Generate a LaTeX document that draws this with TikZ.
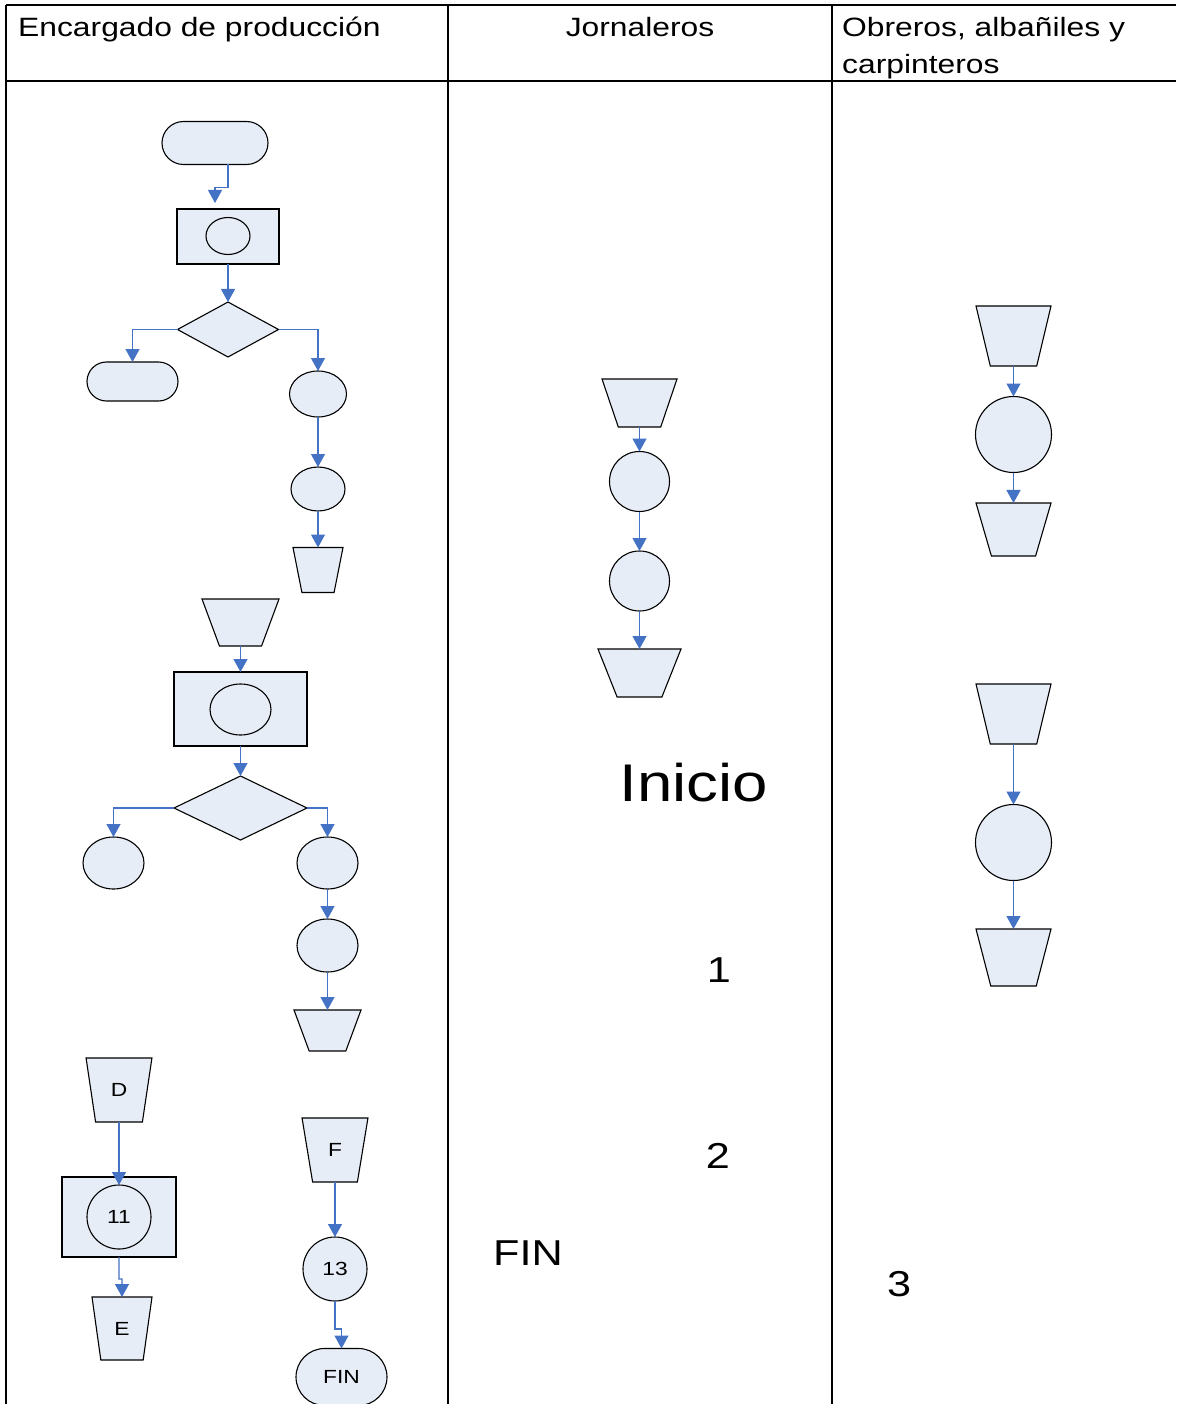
\documentclass[tikz,border=0pt]{standalone}
\usepackage{fontspec}
\setmainfont[FakeStretch=1.2]{Liberation Sans}
\usetikzlibrary{shapes, arrows.meta, calc}
\definecolor{boxfill}{RGB}{230,237,247}
\definecolor{flowblue}{RGB}{68,114,196}
\tikzset{
	shp/.style={draw=black, line width=1.1pt, fill=boxfill, inner sep=0pt, outer sep=0pt, font=\fontsize{19}{22}\selectfont},
	term/.style 2 args={shp, rounded rectangle, minimum width=#1, minimum height=#2},
	oval/.style 2 args={shp, ellipse, minimum width=#1, minimum height=#2},
	circ/.style={shp, circle, minimum size=#1},
	procbox/.style 2 args={shp, rectangle, minimum width=#1, minimum height=#2},
	dec/.style 2 args={shp, diamond, minimum width=#1, minimum height=#2},
	store/.style n args={3}{shp, inner sep=1pt, trapezium, shape border rotate=180, trapezium stretches=true, trapezium angle=#3, minimum width=#1, minimum height=#2},
	flow/.style={draw=flowblue, line width=1.3pt, -{Triangle[width=14pt,length=13pt]}},
	lanerule/.style={line width=2pt},
	hdr/.style={inner sep=0pt, font=\fontsize{26.5}{37}\selectfont},
	big/.style={inner sep=0pt, font=\fontsize{#1}{#1}\selectfont},
}

\begin{document}
\begin{tikzpicture}[x=1pt, y=-1pt]
	\useasboundingbox (0,0) rectangle (1176,1404);
		% lanes
		\draw[lanerule] (6,5) -- (1176,5);
		\draw[lanerule] (6,81) -- (1176,81);
		\foreach \x in {6,448,832} {
			\draw[lanerule] (\x,5) -- (\x,1404); % lane borders
		};
		\node[hdr, anchor=base west] (h1) at (18,37) {Encargado de producción};
		\node[hdr, anchor=base] (h2) at (640,37) {Jornaleros};
		\node[hdr, anchor=base west, align=left] (h3) at (842,74) {Obreros, albañiles y\\carpinteros}; % base = last line

		% encargado, first part
		\node[term={106}{43}] (start) at (215,143) {};
		\node[procbox={102}{55}] (box1) at (228,236.5) {};
		\node[oval={44}{37}] (in1) at (228,236) {};
		\node[dec={101}{55}] (dec1) at (228,329.5) {};
		\node[term={91}{39}] (end1) at (132.5,381.5) {};
		\node[oval={57}{46}] (o1) at (318,394) {};
		\node[oval={54}{44}] (o2) at (318,489) {};
		\node[store={50}{45}{74.5}] (s1) at (318,570) {};
		% encargado, second part
		\node[store={77}{47}{67.5}] (s2) at (240.5,622.5) {};
		\node[procbox={133}{74}] (box2) at (240.5,709) {};
		\node[oval={61}{51}] (in2) at (240.5,709.5) {};
		\node[dec={133}{64}] (dec2) at (240.5,808) {};
		\node[oval={61}{52}] (o3) at (113.5,863) {};
		\node[oval={61}{52}] (o4) at (327.5,863) {};
		\node[oval={61}{53}] (o5) at (327.5,945.5) {};
		\node[store={67}{41}{67.5}] (s3) at (327.5,1030.5) {};
		% encargado, third part
		\node[store={66}{64}{76}] (sD) at (119,1090) {D};
		\node[procbox={114}{80}] (box3) at (119,1217) {};
		\node[circ=64] (c11) at (119,1217) {11};
		\node[store={60}{63}{76.6}] (sE) at (122,1328.5) {E};
		\node[store={66}{64}{76}] (sF) at (335,1150) {F};
		\node[circ=64] (c13) at (335,1269) {13};
		\node[term={91}{57}] (fin) at (341.5,1377) {FIN};

		% jornaleros
		\node[store={75}{48}{69}] (j1) at (639.5,403) {};
		\node[circ=60] (j2) at (639.5,481.5) {};
		\node[circ=60] (j3) at (639.5,581) {};
		\node[store={83}{48}{66.9}] (j4) at (639.5,673) {};

		% obreros
		\node[store={75}{60}{72.9}] (w1) at (1013.5,336) {};
		\node[circ=76] (w2) at (1013.5,434.5) {};
		\node[store={75}{53}{70.8}] (w3) at (1013.5,529.5) {};
		\node[store={75}{60}{72.9}] (w4) at (1013.5,714) {};
		\node[circ=76] (w5) at (1013.5,842.5) {};
		\node[store={75}{57}{72}] (w6) at (1013.5,957.5) {};

		% loose texts
		\node[big=53] (inicio) at (694,783) {Inicio};
		\node[big=36] (n1) at (719,970) {1};
		\node[big=36] (n2) at (718,1156) {2};
		\node[big=36] (finb) at (528,1253) {FIN};
		\node[big=36] (n3) at (899,1284) {3};

		% connectors
		\draw[flow] (box1.north |- start.south) |- ++(-13,23) -- ($(start.south |- box1.north)+(0,-6)$);
		\draw[flow] (box1) -- (dec1);
		\draw[flow] (dec1.west) -| (end1);
		\draw[flow] (dec1.east) -| (o1);
		\draw[flow] (o1) -- (o2);
		\draw[flow] (o2) -- (s1);
		\draw[flow] (s2) -- (box2);
		\draw[flow] (box2) -- (dec2);
		\draw[flow] (dec2.west) -| (o3);
		\draw[flow] (dec2.east) -| (o4);
		\draw[flow] (o4) -- (o5);
		\draw[flow] (o5) -- (s3);
		\draw[flow] (sD) -- (c11);
		\draw[flow] (box3.south) |- ++(3,22) -- (sE);
		\draw[flow] (sF) -- (c13);
		\draw[flow] (c13.south) |- ++(6.5,28) -- (fin);
		\draw[flow] (j1) -- (j2);
		\draw[flow] (j2) -- (j3);
		\draw[flow] (j3) -- (j4);
		\draw[flow] (w1) -- (w2);
		\draw[flow] (w2) -- (w3);
		\draw[flow] (w4) -- (w5);
		\draw[flow] (w5) -- (w6);
	\end{tikzpicture}
\end{document}
